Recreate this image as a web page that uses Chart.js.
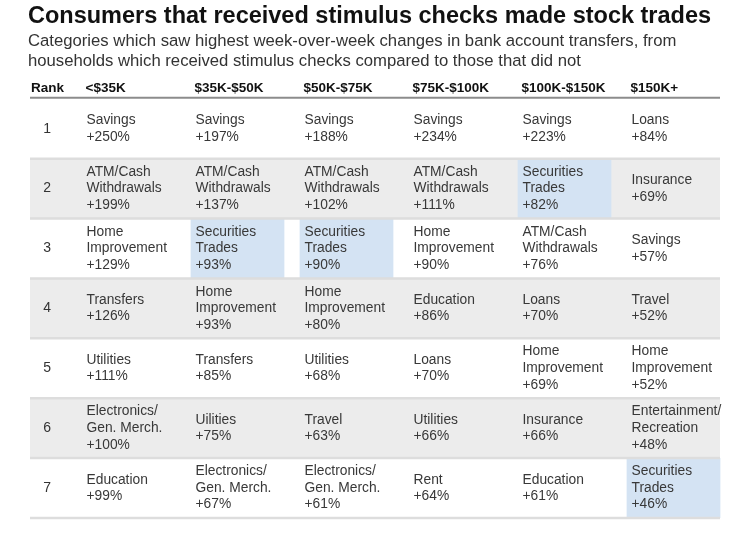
<!DOCTYPE html>
<html>
<head>
<meta charset="utf-8">
<script src="https://cdn.jsdelivr.net/npm/chart.js@4"></script>
<style>
  html, body { margin: 0; padding: 0; background: #ffffff; }
  #wrap { width: 739px; height: 534px; position: relative; }
</style>
</head>
<body>
<div id="wrap"><canvas id="c"></canvas></div>
<script>
// ---------------- data ----------------
const brackets = ['<$35K', '$35K-$50K', '$50K-$75K', '$75K-$100K', '$100K-$150K', '$150K+'];
const ranks = [1, 2, 3, 4, 5, 6, 7];
const rankHeader = 'Rank';

const catsUnder35 = ['Savings', 'ATM/Cash\nWithdrawals', 'Home\nImprovement', 'Transfers', 'Utilities', 'Electronics/\nGen. Merch.', 'Education'];
const valsUnder35 = [250, 199, 129, 126, 111, 100, 99];

const cats35to50 = ['Savings', 'ATM/Cash\nWithdrawals', 'Securities\nTrades', 'Home\nImprovement', 'Transfers', 'Uilities', 'Electronics/\nGen. Merch.'];
const vals35to50 = [197, 137, 93, 93, 85, 75, 67];

const cats50to75 = ['Savings', 'ATM/Cash\nWithdrawals', 'Securities\nTrades', 'Home\nImprovement', 'Utilities', 'Travel', 'Electronics/\nGen. Merch.'];
const vals50to75 = [188, 102, 90, 80, 68, 63, 61];

const cats75to100 = ['Savings', 'ATM/Cash\nWithdrawals', 'Home\nImprovement', 'Education', 'Loans', 'Utilities', 'Rent'];
const vals75to100 = [234, 111, 90, 86, 70, 66, 64];

const cats100to150 = ['Savings', 'Securities\nTrades', 'ATM/Cash\nWithdrawals', 'Loans', 'Home\nImprovement', 'Insurance', 'Education'];
const vals100to150 = [223, 82, 76, 70, 69, 66, 61];

const cats150plus = ['Loans', 'Insurance', 'Savings', 'Travel', 'Home\nImprovement', 'Entertainment/\nRecreation', 'Securities\nTrades'];
const vals150plus = [84, 69, 57, 52, 52, 48, 46];

const highlightCategory = 'Securities\nTrades';

// ---------------- derived ----------------
const columnCats = [catsUnder35, cats35to50, cats50to75, cats75to100, cats100to150, cats150plus];
const columnVals = [valsUnder35, vals35to50, vals50to75, vals75to100, vals100to150, vals150plus];

// floating bar (one row tall) where the stock-trades category sits in each column
const highlightData = columnCats.map(cats => {
  const idx = cats.indexOf(highlightCategory);
  if (idx < 0) return null;
  const r = ranks[idx];
  return [r - 0.5, r + 0.5];
});

// ---------------- style ----------------
const FONT = '"Liberation Sans", Arial, sans-serif';
const TABLE_LEFT = 30;
const TABLE_RIGHT = 720;
const TEXT_SHIFT = -42;     // cell text starts this far left of the column centre
const LINE_H = 16.6;

const tablePlugin = {
  id: 'tablePlugin',
  beforeDatasetsDraw(chart) {
    const ctx = chart.ctx;
    const y = chart.scales.y;
    ctx.save();
    ctx.fillStyle = '#ececec';
    ranks.forEach(r => {
      if (r % 2 === 0) {
        const t = y.getPixelForValue(r - 0.5);
        const b = y.getPixelForValue(r + 0.5);
        ctx.fillRect(TABLE_LEFT, t, TABLE_RIGHT - TABLE_LEFT, b - t);
      }
    });
    ctx.restore();
  },
  afterDatasetsDraw(chart) {
    const ctx = chart.ctx;
    const x = chart.scales.x;
    const y = chart.scales.y;
    ctx.save();
    // row separators
    ctx.strokeStyle = '#dddddd';
    ctx.lineWidth = 2.5;
    ranks.forEach(r => {
      const p = y.getPixelForValue(r + 0.5);
      ctx.beginPath();
      ctx.moveTo(TABLE_LEFT, p);
      ctx.lineTo(TABLE_RIGHT, p);
      ctx.stroke();
    });
    // header underline
    const top = y.getPixelForValue(ranks[0] - 0.5);
    ctx.strokeStyle = '#8c8c8c';
    ctx.lineWidth = 2;
    ctx.beginPath();
    ctx.moveTo(TABLE_LEFT, top - 1);
    ctx.lineTo(TABLE_RIGHT, top - 1);
    ctx.stroke();
    // "Rank" header
    ctx.fillStyle = '#111111';
    ctx.font = 'bold 13.5px ' + FONT;
    ctx.textAlign = 'left';
    ctx.textBaseline = 'middle';
    ctx.fillText(rankHeader, 31, top - 10);
    // cell texts
    ctx.fillStyle = '#383838';
    ctx.font = '13.8px ' + FONT;
    columnCats.forEach((cats, ci) => {
      const cx = x.getPixelForValue(ci) + TEXT_SHIFT;
      cats.forEach((name, ri) => {
        const lines = name.split('\n').concat(['+' + columnVals[ci][ri] + '%']);
        const cy = y.getPixelForValue(ranks[ri]);
        const start = cy - (lines.length - 1) * LINE_H / 2;
        lines.forEach((ln, li) => ctx.fillText(ln, cx, start + li * LINE_H));
      });
    });
    ctx.restore();
  }
};

new Chart(document.getElementById('c'), {
  type: 'bar',
  data: {
    labels: brackets,
    datasets: [{
      label: 'Securities Trades',
      data: highlightData,
      backgroundColor: '#d4e3f3',
      borderWidth: 0,
      borderSkipped: false,
      categoryPercentage: 1,
      barPercentage: 0.86
    }]
  },
  options: {
    responsive: true,
    maintainAspectRatio: false,
    animation: false,
    events: [],
    layout: { padding: { left: 28, right: 11, top: 0, bottom: 16 } },
    plugins: {
      legend: { display: false },
      tooltip: { enabled: false },
      title: {
        display: true,
        align: 'start',
        text: 'Consumers that received stimulus checks made stock trades',
        color: '#111111',
        font: { family: FONT, size: 23.5, weight: 'bold', lineHeight: 1.2 },
        padding: { top: 2.4, bottom: 0 }
      },
      subtitle: {
        display: true,
        align: 'start',
        text: ['Categories which saw highest week-over-week changes in bank account transfers, from',
               'households which received stimulus checks compared to those that did not'],
        color: '#333333',
        font: { family: FONT, size: 16.7, lineHeight: 1.2 },
        padding: { top: 0.4, bottom: 7.5 }
      }
    },
    scales: {
      x: {
        type: 'category',
        position: 'top',
        offset: true,
        grid: { display: false, drawTicks: false },
        border: { display: false },
        afterFit: s => { s.paddingLeft = 0; s.paddingRight = 0; },
        ticks: {
          color: '#111111',
          font: { family: FONT, size: 13.5, weight: 'bold' },
          align: 'start',
          labelOffset: -43,
          padding: 2,
          autoSkip: false,
          maxRotation: 0,
          minRotation: 0
        }
      },
      y: {
        type: 'linear',
        reverse: true,
        min: ranks[0] - 0.5,
        max: ranks[ranks.length - 1] + 0.5,
        grid: { display: false, drawTicks: false },
        border: { display: false },
        afterBuildTicks: s => { s.ticks = ranks.map(v => ({ value: v })); },
        afterFit: s => { s.width = 46; s.paddingTop = 0; s.paddingBottom = 0; },
        ticks: {
          z: 1,
          color: '#333333',
          font: { family: FONT, size: 14 },
          padding: 23,
          autoSkip: false,
          callback: v => String(v)
        }
      }
    }
  },
  plugins: [tablePlugin]
});
</script>
</body>
</html>
